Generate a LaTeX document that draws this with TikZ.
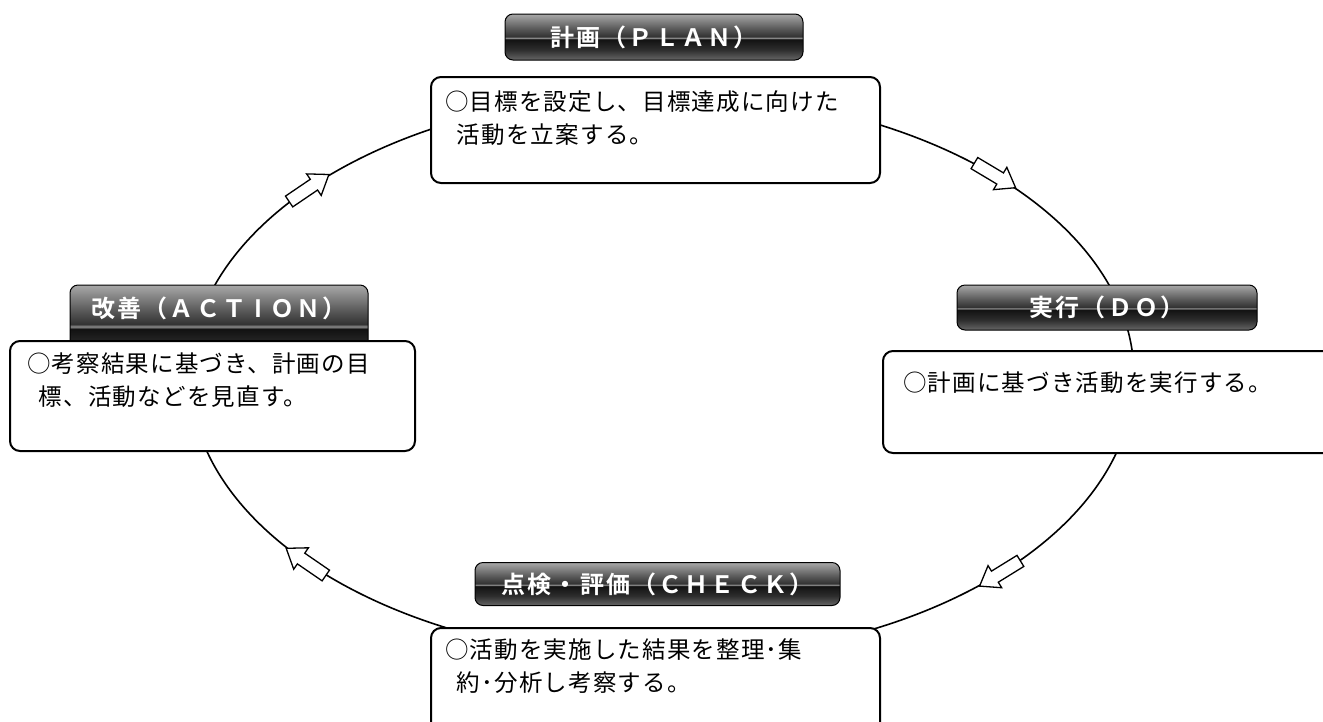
\documentclass[tikz,border=0pt]{standalone}
\usepackage{fontspec}
\newfontfamily\jp{Noto Sans CJK JP}
\newfontfamily\jpb[LetterSpace=9]{Noto Sans CJK JP Bold}
\newfontfamily\jpt[LetterSpace=5]{Noto Sans CJK JP}
\usetikzlibrary{calc}
\pgfdeclareverticalshading{glossy}{100bp}{rgb(0bp)=(.40,.40,.40); rgb(25bp)=(.40,.40,.40); rgb(36bp)=(.18,.18,.18); rgb(47.5bp)=(.07,.07,.07); rgb(49bp)=(.55,.55,.55); rgb(50.5bp)=(.20,.20,.20); rgb(58bp)=(.33,.33,.33); rgb(75bp)=(.66,.66,.66); rgb(100bp)=(.66,.66,.66)}
\tikzset{
  lblbox/.style={draw=black, line width=1pt, rounded corners=8pt, shading=glossy, inner sep=0pt},
  lbltext/.style={text=white, font=\jpb\fontsize{24}{24}\selectfont, inner sep=0pt},
  cbox/.style={draw=black, line width=2pt, rounded corners=10pt, fill=white, inner sep=0pt},
  ctext/.style={font=\jpt\fontsize{23.5}{33}\selectfont, align=left, inner sep=0pt, anchor=north west},
  flow/.style={draw=black, line width=1.6pt},
  barrow/.style={draw=black, line width=1.3pt, fill=white, line join=miter},
}
\newcommand\blockarrow[3]{%
  \coordinate (#1t) at (#2);
  \coordinate (#1h) at (#3);
  \coordinate (#1n) at ($(#1t)!30pt!(#1h)$);
  \draw[barrow] ($(#1t)!6.5pt!90:(#1h)$) -- ($(#1n)!6.5pt!90:(#1h)$) -- ($(#1n)!13pt!90:(#1h)$) -- (#1h)
     -- ($(#1n)!13pt!-90:(#1h)$) -- ($(#1n)!6.5pt!-90:(#1h)$) -- ($(#1t)!6.5pt!-90:(#1h)$) -- cycle;
}
\begin{document}
\begin{tikzpicture}[x=1pt,y=-1pt]
\useasboundingbox (0,0) rectangle (1323,721);
\fill[white] (0,0) rectangle (1323,721);
% cycle
\coordinate (ctr) at (662,376);
\draw[flow] (ctr) ellipse [x radius=472, y radius=283];
% flow arrows
\blockarrow{a1}{289.1,201.5}{328.9,174.5}
\blockarrow{a2}{974.4,163.1}{1015.6,187.7}
\blockarrow{a3}{1020.4,560.9}{979.6,586.1}
\blockarrow{a4}{325.8,575.5}{286.2,548.3}
% PLAN
\node[lblbox, minimum width=298pt, minimum height=46pt] (planlbl) at (654,37) {};
\node[lbltext] (planlbltext) at (654,37) {計画（ＰＬＡＮ）};
\node[cbox, minimum width=449pt, minimum height=106pt] (planbox) at (655.5,130) {};
\node[ctext] (plantext) at (445,91) {○目標を設定し、目標達成に向けた\\\hspace{0.5em}活動を立案する。};
% DO
\node[lblbox, minimum width=300pt, minimum height=45pt] (dolbl) at (1107,307.5) {};
\node[lbltext] (dolbltext) at (1107,307.5) {実行（ＤＯ）};
\node[cbox, minimum width=460pt, minimum height=102pt] (dobox) at (1113,402) {};
\node[ctext] (dotext) at (903,372) {○計画に基づき活動を実行する。};
% ACTION
\node[lblbox, minimum width=298pt, minimum height=80pt] (actlbl) at (219,325) {};
\node[lbltext] (actlbltext) at (219,308) {改善（ＡＣＴ\makebox[1em]{I}ＯＮ）};
\node[cbox, minimum width=405pt, minimum height=110pt] (actbox) at (212.5,396) {};
\node[ctext] (acttext) at (27,353) {○考察結果に基づき、計画の目\\\hspace{0.5em}標、活動などを見直す。};
% CHECK
\node[lblbox, minimum width=365pt, minimum height=43pt] (chklbl) at (657.5,584) {};
\node[lbltext] (chklbltext) at (657.5,584) {点検・評価（ＣＨＥＣＫ）};
\node[cbox, minimum width=449pt, minimum height=120pt] (chkbox) at (655.5,688) {};
\node[ctext] (chktext) at (445,639) {○活動を実施した結果を整理･集\\\hspace{0.5em}約･分析し考察する。};
\end{tikzpicture}
\end{document}
